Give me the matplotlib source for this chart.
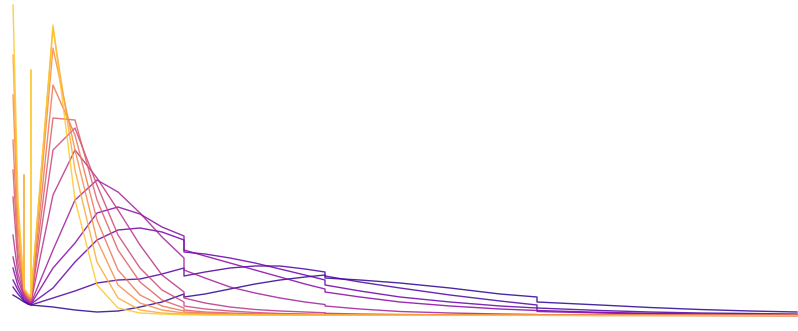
import numpy as np
import matplotlib.pyplot as plt

# shared grid (repeated points make the steps / spikes)
x = [13, 18, 24, 24, 24, 28, 31, 31, 31, 53, 75, 97, 118, 140, 162, 184, 184,
     205, 230, 255, 280, 305, 325, 325, 360, 400, 450, 500, 537, 537,
     600, 650, 700, 750, 797]

# one list per curve, darkest (late) to brightest (early)
c0 = [21, 18, 14, 14, 14, 12, 11, 11, 11, 9, 6, 4, 5, 9, 14, 22, 19, 22, 27, 32, 36, 39, 41, 38,
      36, 33, 28, 22, 19, 14, 11, 8.5, 6.5, 5, 4]
c1 = [29, 22, 15, 15, 15, 12, 11, 11, 11, 18, 25, 33, 36, 37, 42, 48, 40, 44, 48, 50, 50, 47, 44, 40,
      34, 28, 21, 15, 11, 8, 5.5, 4, 3, 2.5, 2]
c2 = [36, 26, 16, 16, 16, 13, 12, 12, 12, 28, 54, 76, 86, 88, 84, 76, 64, 62, 58, 53, 47, 41, 36, 31,
      25, 19, 14, 10, 8, 5.5, 3.7, 2.7, 2, 1.5, 1]
c3 = [48, 30, 18, 18, 18, 14, 12, 12, 12, 48, 73, 103, 109, 102, 89, 80, 66, 60, 53, 46, 39, 32, 27, 24,
      19, 14, 10, 7, 5.5, 4.5, 3, 2, 1.5, 1, 0.8]
c4 = [59, 36, 20, 20, 20, 15, 13, 13, 13, 66, 116, 136, 124, 103, 79, 58, 46, 38, 29, 23, 18, 14, 11.5, 10,
      7, 4.5, 3, 2, 1.5, 1.3, 1, 0.9, 0.8, 0.7, 0.6]
c5 = [81, 42, 22, 22, 22, 16, 14, 14, 14, 121, 166, 138, 106, 71, 41, 24, 18, 13, 9, 6.5, 5, 4, 3.2, 2.7,
      2, 1.5, 1.2, 1, 0.9, 0.8, 0.7, 0.7, 0.6, 0.6, 0.5]
c6 = [119, 52, 23, 23, 23, 17, 15, 15, 15, 166, 188, 131, 81, 48, 26, 14, 10, 7, 5, 3.5, 2.5, 2, 1.6, 1.4,
      1.2, 1.1, 1, 0.9, 0.9, 0.8, 0.7, 0.7, 0.6, 0.6, 0.5]
c7 = [146, 62, 24, 24, 24, 18, 16, 16, 16, 198, 196, 116, 66, 34, 16, 8, 6, 4, 3, 2.2, 1.8, 1.5, 1.3, 1.2,
      1.1, 1, 0.9, 0.8, 0.8, 0.7, 0.7, 0.6, 0.6, 0.5, 0.5]
c8 = [176, 72, 25, 25, 25, 19, 17, 17, 17, 231, 181, 96, 46, 21, 10, 5, 4, 3, 2, 1.6, 1.4, 1.2, 1.1, 1.1,
      1, 0.9, 0.8, 0.8, 0.7, 0.7, 0.6, 0.6, 0.6, 0.5, 0.5]
c9 = [221, 88, 26, 26, 26, 20, 18, 18, 18, 268, 166, 76, 31, 13, 6, 3, 3, 2, 1.6, 1.4, 1.2, 1.1, 1, 1,
      0.9, 0.9, 0.8, 0.8, 0.7, 0.7, 0.6, 0.6, 0.6, 0.5, 0.5]
c10 = [261, 102, 27, 141, 27, 21, 19, 19, 19, 288, 146, 54, 18, 6, 3, 2, 2, 1.5, 1.3, 1.2, 1.1, 1, 1, 1,
       0.9, 0.8, 0.8, 0.7, 0.7, 0.7, 0.6, 0.6, 0.6, 0.5, 0.5]
c11 = [311, 116, 28, 28, 28, 22, 20, 246, 20, 291, 116, 31, 8, 3, 2, 1.2, 1.2, 1, 1, 0.9, 0.9, 0.8, 0.8, 0.8,
       0.7, 0.7, 0.6, 0.6, 0.6, 0.6, 0.5, 0.5, 0.5, 0.5, 0.5]

curves = [c0, c1, c2, c3, c4, c5, c6, c7, c8, c9, c10, c11]

fig = plt.figure(figsize=(7.98, 3.31), dpi=100)
ax = fig.add_axes([0, 0, 1, 1])
cols = plt.cm.plasma(np.linspace(0.05, 0.88, len(curves)))
for i, c in enumerate(curves):
    ax.plot(x, c, color=cols[i], lw=1.0, alpha=0.85)

ax.set_xlim(0, 798)
ax.set_ylim(-15, 316)
ax.axis('off')

fig.savefig('out.png', dpi=100)
